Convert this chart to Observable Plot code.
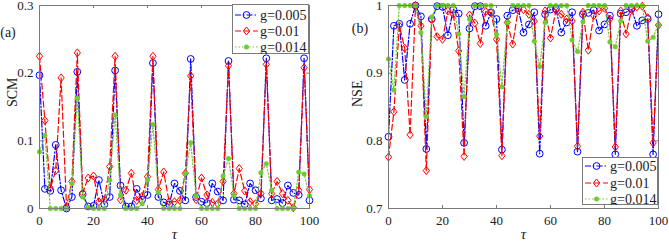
<!DOCTYPE html>
<html><head><meta charset="utf-8">
<script src="https://cdn.jsdelivr.net/npm/d3@7"></script>
<script src="https://cdn.jsdelivr.net/npm/@observablehq/plot@0.6"></script>
<style>
body{margin:0;background:#fff}
#wrap{position:relative;width:669px;height:244px;font-family:"Liberation Serif",serif;overflow:hidden}
.panel{position:absolute;top:0}
.legend{position:absolute}
</style></head>
<body><div id="wrap"></div>
<script>
const tau = [0,2,4,6,8,10,12,14,16,18,20,22,24,26,28,30,32,34,36,38,40,42,44,46,48,50,52,54,56,58,60,62,64,66,68,70,72,74,76,78,80,82,84,86,88,90,92,94,96,98,100];
const seriesNames = ["g=0.005","g=0.01","g=0.014"];
const seriesColors = ["#0000ff","#ff0000","#6fcc33"];
const seriesDash = ["6,2,1.5,2","6,3","1.5,2"];
const xTicks = [0,20,40,60,80,100];
const scmTicks = [0,0.1,0.2,0.3];
const nseTicks = [0.7,0.8,0.9,1];

const scm005 = [0.197,0.029,0.026,0.094,0.027,0.0,0.017,0.202,0.021,0.003,0.004,0.042,0.006,0.017,0.204,0.034,0.003,0.003,0.029,0.013,0.02,0.215,0.017,0.009,0.006,
0.037,0.026,0.012,0.221,0.017,0.01,0.008,0.037,0.025,0.012,0.218,0.013,0.012,0.006,0.037,0.027,0.015,0.222,0.012,0.014,0.008,0.034,0.023,0.02,0.222,0.012];
const scm01 = [0.225,0.13,0.03,0.056,0.193,0.003,0.04,0.23,0.023,0.045,0.048,0.01,0.013,0.062,0.225,0.013,0.027,0.052,0.012,0.018,0.047,0.225,0.028,0.054,0.01,
0.01,0.012,0.052,0.196,0.013,0.045,0.02,0.009,0.007,0.04,0.211,0.022,0.059,0.026,0.01,0.007,0.022,0.213,0.022,0.04,0.022,0.012,0.001,0.027,0.208,0.028];
const scm014 = [0.084,0.108,0,0,0,0,0.037,0.163,0.017,0.002,0,0,0,0.042,0.138,0.02,0,0,0,0.007,0.042,0.124,0.024,0,0,
0,0,0.052,0.097,0.019,0,0,0,0,0.048,0.074,0.02,0,0,0,0,0.053,0.066,0.027,0,0,0,0,0.054,0.051,0.019];

const nse005 = [0.806,0.97,0.973,0.89,0.973,1.0,0.984,0.788,0.98,0.999,0.998,0.956,0.994,0.988,0.797,0.966,0.999,0.999,0.97,0.99,0.98,0.787,
0.985,0.993,0.996,0.96,0.972,0.99,0.781,0.987,0.994,0.995,0.96,0.975,0.99,0.784,0.987,0.989,0.993,0.963,0.972,0.985,0.78,0.988,0.99,0.995,0.97,0.978,0.98,0.78,0.987];
const nse01 = [0.776,0.843,0.97,0.937,0.809,1.0,0.97,0.756,0.979,0.954,0.95,0.992,0.987,0.933,0.777,0.986,0.974,0.944,0.991,0.989,0.95,0.778,
0.975,0.943,0.993,0.994,0.987,0.977,0.807,0.992,0.952,0.993,0.987,0.98,0.977,0.792,0.99,0.934,0.985,0.992,0.996,0.98,0.791,0.992,0.958,0.994,0.998,0.999,0.982,0.797,0.971];
const nse014 = [0.921,0.875,1,1,1,1,0.96,0.836,0.983,1,1,1,1,0.958,0.865,0.98,1,1,1,1,0.957,0.88,
0.975,1,1,1,1,0.947,0.91,0.975,1,1,1,1,0.949,0.932,0.976,1,1,1,1,0.946,0.939,0.977,1,1,1,1,0.947,0.953,0.972];

const diamond = {draw(ctx, size){const r=Math.sqrt(size/Math.PI); ctx.moveTo(0,-r*1.3); ctx.lineTo(r,0); ctx.lineTo(0,r*1.3); ctx.lineTo(-r,0); ctx.closePath();}};
const markerOpts = [
  {symbol:"circle", r:3.4, fill:"none", strokeWidth:1},
  {symbol:diamond, r:3.1, fill:"none", strokeWidth:1},
  {symbol:"circle", r:2.5, stroke:"none"}
];
const frameColor = "#7a7a7a";

function rows(vals){ return tau.map((t,i)=>({t, v: vals[i]})); }

function panel(o){
  const H=244, mt=5, mb=36;
  const iw=o.width-o.ml-o.mr, ih=H-mt-mb;
  const marks = [
    Plot.tickX(xTicks,{x:d=>d, stroke:frameColor, insetTop: ih-3}),
    Plot.tickX(xTicks,{x:d=>d, stroke:frameColor, insetBottom: ih-3}),
    Plot.tickY(o.yTicks,{y:d=>d, stroke:frameColor, insetRight: iw-3}),
    Plot.tickY(o.yTicks,{y:d=>d, stroke:frameColor, insetLeft: iw-3}),
    Plot.axisX({ticks:xTicks, tickSize:0, tickPadding:7, label:null, tickFormat:d=>String(d), fontSize:13}),
    Plot.axisY({ticks:o.yTicks, tickSize:0, tickPadding:6, label:null, tickFormat:d=>String(d), fontSize:13}),
  ];
  o.series.forEach((vals,k)=>{
    const data = rows(vals);
    marks.push(Plot.line(data,{x:"t", y:"v", stroke:seriesColors[k], strokeWidth:1.2, strokeDasharray:seriesDash[k]}));
    const m = markerOpts[k];
    marks.push(Plot.dot(data,{x:"t", y:"v", symbol:m.symbol, r:m.r,
      stroke: m.stroke==="none" ? "none" : seriesColors[k],
      fill: m.fill==="none" ? "none" : seriesColors[k], strokeWidth:m.strokeWidth||1}));
  });
  marks.push(Plot.frame({stroke:frameColor}));
  marks.push(Plot.text([o.ylabel],{text:d=>d, frameAnchor:"left", dx:o.ylabDx, rotate:-90, fontSize:14, fill:"#222"}));
  marks.push(Plot.text(["τ"],{text:d=>d, frameAnchor:"bottom", dy:30, fontSize:15, fontStyle:"italic", fill:"#222"}));
  marks.push(Plot.text([o.tag],{text:d=>d, frameAnchor:"top-left", dx:o.tagDx, dy:o.tagDy, fontSize:14, textAnchor:"middle", lineAnchor:"middle", fill:"#222"}));
  const svg = Plot.plot({
    width:o.width, height:H, marginLeft:o.ml, marginRight:o.mr, marginTop:mt, marginBottom:mb,
    x:{domain:[0,100]}, y:{domain:o.yDomain},
    style:{fontFamily:'"Liberation Serif", serif', fontSize:"13px", color:"#222", background:"transparent", overflow:"visible"},
    marks
  });
  svg.classList.add("panel");
  svg.style.left = o.left+"px";
  return svg;
}

function legend(left, top, w, h, rowYs){
  const svg = d3.create("svg").attr("class","legend").attr("width",w).attr("height",h)
    .style("left",left+"px").style("top",top+"px");
  svg.append("rect").attr("x",0.5).attr("y",0.5).attr("width",w-1).attr("height",h-1).attr("fill","#fff").attr("stroke",frameColor);
  seriesNames.forEach((name,k)=>{
    const y = rowYs[k];
    svg.append("line").attr("x1",3).attr("x2",26).attr("y1",y).attr("y2",y)
      .attr("stroke",seriesColors[k]).attr("stroke-width",1.2).attr("stroke-dasharray",seriesDash[k]);
    const m = markerOpts[k];
    const sym = typeof m.symbol === "string" ? d3.symbolCircle : m.symbol;
    svg.append("path").attr("transform",`translate(14.5,${y})`)
      .attr("d", d3.symbol(sym, Math.PI*m.r*m.r)())
      .attr("fill", m.fill==="none" ? "none" : seriesColors[k])
      .attr("stroke", m.stroke==="none" ? "none" : seriesColors[k]);
    svg.append("text").attr("x",28).attr("y",y+4.5).attr("font-size",14)
      .attr("font-family",'"Liberation Serif", serif').attr("fill","#222").text(name);
  });
  return svg.node();
}

const wrap = document.getElementById("wrap");
wrap.appendChild(panel({series:[scm005,scm01,scm014], yDomain:[0,0.3], yTicks:scmTicks, ylabel:"SCM", tag:"(a)",
  width:335, left:0, ml:39, mr:26, ylabDx:-27, tagDx:-31.5, tagDy:27}));
wrap.appendChild(panel({series:[nse005,nse01,nse014], yDomain:[0.7,1], yTicks:nseTicks, ylabel:"NSE", tag:"(b)",
  width:334, left:335, ml:53, mr:11, ylabDx:-31, tagDx:-28.5, tagDy:23}));
wrap.appendChild(legend(232, 4, 77, 50, [11,27,43]));
wrap.appendChild(legend(582, 157, 76, 48, [9,26,42]));
</script>
</body></html>
